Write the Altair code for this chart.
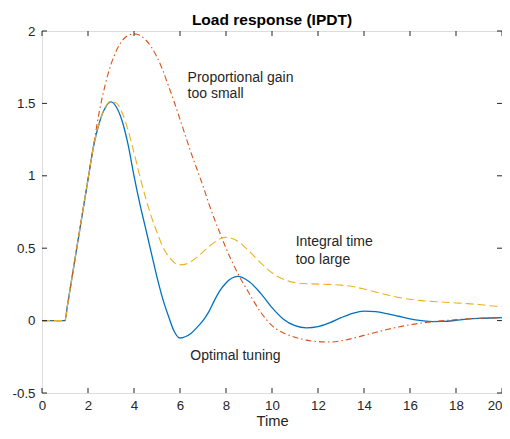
import altair as alt
import pandas as pd

time = [0, 1, 1.1, 1.5, 2, 2.25, 2.5, 2.75, 3, 3.25, 3.5, 3.75, 4, 4.25, 4.5, 4.75, 5,
        5.25, 5.5, 5.75, 6, 6.25, 6.5, 6.75, 7, 7.25, 7.5, 7.75, 8, 8.5, 9, 9.5, 10,
        10.5, 11, 11.5, 12, 12.5, 13, 13.5, 14, 14.5, 15, 15.5, 16, 16.5, 17, 17.5,
        18, 18.5, 19, 19.5, 20]

optimal = [0, 0, 0.0975, 0.49, 0.975, 1.21, 1.37, 1.47, 1.51, 1.47, 1.37, 1.21, 1.0,
           0.81, 0.64, 0.47, 0.3, 0.15, 0.03, -0.075, -0.12, -0.11, -0.085, -0.045,
           0.0, 0.06, 0.14, 0.21, 0.26, 0.305, 0.27, 0.19, 0.09, 0.01, -0.035, -0.05,
           -0.042, -0.015, 0.02, 0.05, 0.066, 0.062, 0.048, 0.03, 0.012, 0.0, -0.007,
           -0.006, 0.002, 0.01, 0.015, 0.018, 0.02]

p_small = [0, 0, 0.0975, 0.49, 0.975, 1.22, 1.45, 1.63, 1.77, 1.87, 1.935, 1.97, 1.98,
           1.97, 1.94, 1.89, 1.82, 1.73, 1.62, 1.51, 1.39, 1.27, 1.15, 1.04, 0.93, 0.81,
           0.7, 0.6, 0.5, 0.33, 0.19, 0.06, -0.035, -0.085, -0.115, -0.135, -0.145,
           -0.148, -0.14, -0.123, -0.102, -0.082, -0.062, -0.044, -0.029, -0.017,
           -0.007, 0.0, 0.007, 0.012, 0.016, 0.018, 0.02]

i_large = [0, 0, 0.0975, 0.49, 0.975, 1.21, 1.37, 1.475, 1.515, 1.5, 1.43, 1.31, 1.16,
           1.0, 0.85, 0.72, 0.61, 0.51, 0.445, 0.4, 0.385, 0.39, 0.41, 0.44, 0.475, 0.51,
           0.54, 0.565, 0.575, 0.55, 0.48, 0.4, 0.33, 0.285, 0.262, 0.255, 0.252,
           0.25, 0.245, 0.235, 0.218, 0.198, 0.178, 0.16, 0.147, 0.138, 0.132, 0.127,
           0.122, 0.117, 0.111, 0.103, 0.095]

x_ticks = [0, 2, 4, 6, 8, 10, 12, 14, 16, 18, 20]
y_ticks = [-0.5, 0, 0.5, 1, 1.5, 2]

ann_text = ["Proportional gain", "too small", "Integral time", "too large", "Optimal tuning"]
ann_x = [6.33, 6.33, 11.03, 11.03, 6.45]
ann_y = [1.678, 1.565, 0.541, 0.42, -0.242]

FONT = "Liberation Sans"
W, H = 460, 362

df_opt = pd.DataFrame({"t": time, "v": optimal})
df_p = pd.DataFrame({"t": time, "v": p_small})
df_i = pd.DataFrame({"t": time, "v": i_large})
df_ann = pd.DataFrame({"t": ann_x, "v": ann_y, "label": ann_text})
df_xt = pd.DataFrame({"t": x_ticks})
df_yt = pd.DataFrame({"v": y_ticks})

xscale = alt.Scale(domain=[0, 20], nice=False, zero=False)
yscale = alt.Scale(domain=[-0.5, 2], nice=False, zero=False)

xaxis = alt.Axis(values=x_ticks, ticks=False, tickSize=0, domain=False, grid=False,
                 labelFlush=False,
                 labelAlign={"condition": {"test": "datum.value >= 20", "value": "right"},
                             "value": "center"},
                 labelPadding=5, labelFontSize=13.3, labelFont=FONT, labelColor="#262626",
                 title="Time", titleFont=FONT, titleFontSize=14.7, titleFontWeight="normal",
                 titleColor="#262626", titlePadding=2, labelExpr="'' + datum.value")
yaxis = alt.Axis(values=y_ticks, ticks=False, tickSize=0, domain=False, grid=False,
                 labelPadding=7, labelFontSize=13.3, labelFont=FONT, labelColor="#262626",
                 title=None, labelExpr="'' + datum.value")

X = alt.X("t:Q", scale=xscale, axis=xaxis)
Y = alt.Y("v:Q", scale=yscale, axis=yaxis)

line_opt = alt.Chart(df_opt).mark_line(color="#0072BD", strokeWidth=1.3,
                                       interpolate="monotone").encode(x=X, y=Y)
line_p = alt.Chart(df_p).mark_line(color="#D95319", strokeWidth=1.1, interpolate="monotone",
                                   strokeDash=[6, 3, 1.5, 3]).encode(x=X, y=Y)
line_i = alt.Chart(df_i).mark_line(color="#EDB120", strokeWidth=1.1, interpolate="monotone",
                                   strokeDash=[8, 4]).encode(x=X, y=Y)

text = alt.Chart(df_ann).mark_text(align="left", baseline="middle", font=FONT,
                                   fontSize=14, color="#262626").encode(
    x=alt.X("t:Q", scale=xscale), y=alt.Y("v:Q", scale=yscale), text="label:N")

tick_col = "#262626"
xt_bot = alt.Chart(df_xt).mark_rule(color=tick_col, strokeWidth=1).encode(
    x=alt.X("t:Q", scale=xscale), y=alt.value(H), y2=alt.value(H - 5))
xt_top = alt.Chart(df_xt).mark_rule(color=tick_col, strokeWidth=1).encode(
    x=alt.X("t:Q", scale=xscale), y=alt.value(0), y2=alt.value(5))
yt_left = alt.Chart(df_yt).mark_rule(color=tick_col, strokeWidth=1).encode(
    y=alt.Y("v:Q", scale=yscale), x=alt.value(0), x2=alt.value(5))
yt_right = alt.Chart(df_yt).mark_rule(color=tick_col, strokeWidth=1).encode(
    y=alt.Y("v:Q", scale=yscale), x=alt.value(W), x2=alt.value(W - 5))

chart = alt.layer(line_opt, line_p, line_i, text, xt_bot, xt_top, yt_left, yt_right).properties(
    width=W, height=H,
    title=alt.TitleParams("Load response (IPDT)", font=FONT, fontSize=15.5, fontWeight="bold",
                          color="#000000", anchor="middle", frame="group", offset=4, dy=8),
    autosize=alt.AutoSizeParams(type="none"),
    padding={"left": 34, "top": 23, "right": 0, "bottom": 38},
).configure_view(stroke="#8a8a8a", strokeWidth=1).configure(background="white")

chart.save("out.html", embed_options={"renderer": "svg", "actions": False})
